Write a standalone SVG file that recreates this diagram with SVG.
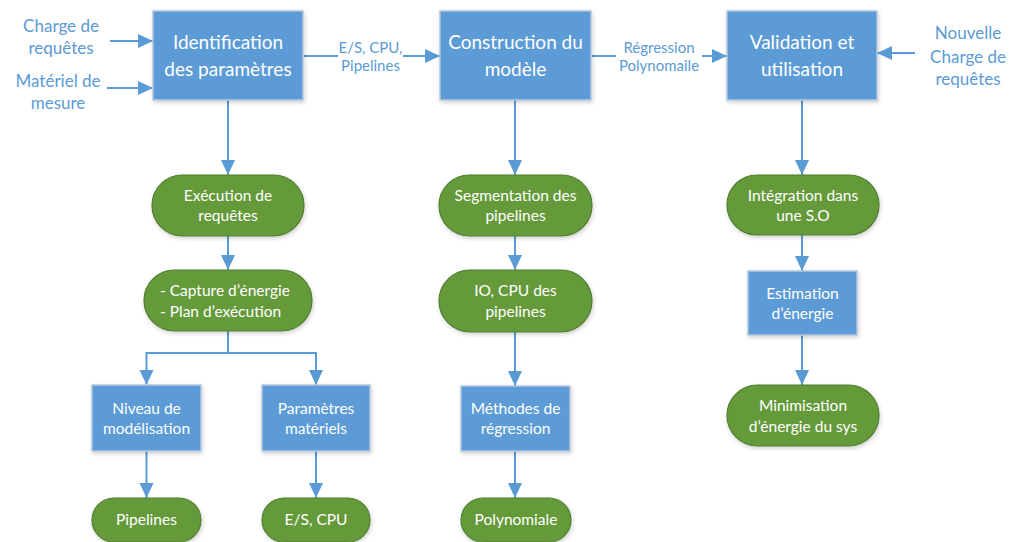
<svg xmlns="http://www.w3.org/2000/svg" width="1012" height="542" viewBox="0 0 1012 542">
<defs>
<marker id="arr" markerUnits="userSpaceOnUse" markerWidth="16" markerHeight="16" viewBox="0 0 16 16" refX="15" refY="8" orient="auto">
<path d="M0,1 L15,8 L0,15 Z" fill="#5B9BD5"/>
</marker>
<filter id="sh" x="-10%" y="-10%" width="130%" height="140%">
<feDropShadow dx="1" dy="2" stdDeviation="2" flood-color="#000" flood-opacity="0.18"/>
</filter>
</defs>
<style>
.box{fill:#5B9BD5;stroke:#B4C7DC;stroke-width:1.5;filter:url(#sh)}
.pill{fill:#659A3A;stroke:#507E32;stroke-width:1.2;filter:url(#sh)}
.t{font-family:Lato,"Open Sans","Liberation Sans",sans-serif;fill:#fff;text-anchor:middle}
.big{font-size:19px}
.sm{font-size:15.5px}
.lbl{font-family:Lato,"Open Sans","Liberation Sans",sans-serif;fill:#5B9BD5;text-anchor:middle}
.l17{font-size:17px}
.l15{font-size:15px}
.c{stroke:#5B9BD5;stroke-width:2;fill:none}
.ca{stroke:#5B9BD5;stroke-width:2;fill:none;marker-end:url(#arr)}
</style>

<g id="connectors">
<line class="ca" x1="110" y1="41" x2="153" y2="41"/>
<line class="ca" x1="107" y1="88" x2="153" y2="88"/>
<line class="c" x1="303" y1="56" x2="338" y2="56"/>
<line class="ca" x1="403" y1="56" x2="440" y2="56"/>
<line class="c" x1="591" y1="56" x2="616" y2="56"/>
<line class="ca" x1="702" y1="56" x2="727" y2="56"/>
<line class="ca" x1="915" y1="53" x2="877" y2="53"/>
<line class="ca" x1="228" y1="100" x2="228" y2="175"/>
<line class="ca" x1="228" y1="236" x2="228" y2="270"/>
<path class="c" d="M228,331 V353 H316 M228,353 H146.5"/>
<line class="ca" x1="146.5" y1="352" x2="146.5" y2="385"/>
<line class="ca" x1="316" y1="352" x2="316" y2="385"/>
<line class="ca" x1="146.5" y1="451" x2="146.5" y2="498"/>
<line class="ca" x1="316" y1="451" x2="316" y2="498"/>
<line class="ca" x1="515" y1="100" x2="515" y2="175"/>
<line class="ca" x1="515" y1="236" x2="515" y2="270"/>
<line class="ca" x1="515" y1="332" x2="515" y2="386"/>
<line class="ca" x1="515" y1="451" x2="515" y2="498"/>
<line class="ca" x1="802" y1="100" x2="802" y2="175"/>
<line class="ca" x1="802" y1="235" x2="802" y2="271"/>
<line class="ca" x1="802" y1="335" x2="802" y2="385"/>
<text class="lbl l15" x="370.5" y="53">E/S, CPU,</text>
<text class="lbl l15" x="370.5" y="71">Pipelines</text>
<text class="lbl l15" x="659" y="53">Régression</text>
<text class="lbl l15" x="659" y="71">Polynomaile</text>
</g>

<g id="in1"><text class="lbl l17" x="61" y="32">Charge de</text><text class="lbl l17" x="61" y="54">requêtes</text></g>
<g id="in2"><text class="lbl l17" x="58" y="87">Matériel de</text><text class="lbl l17" x="58" y="109">mesure</text></g>
<g id="in3"><text class="lbl l17" x="968" y="39">Nouvelle</text><text class="lbl l17" x="968" y="63">Charge de</text><text class="lbl l17" x="968" y="85">requêtes</text></g>

<g id="ident"><rect class="box" x="153" y="11" width="150" height="89"/><text class="t big" x="228" y="49">Identification</text><text class="t big" x="228" y="76">des paramètres</text></g>
<g id="constr"><rect class="box" x="440" y="11" width="151" height="89"/><text class="t big" x="515.5" y="49">Construction du</text><text class="t big" x="515.5" y="76">modèle</text></g>
<g id="valid"><rect class="box" x="727" y="11" width="150" height="89"/><text class="t big" x="802" y="49">Validation et</text><text class="t big" x="802" y="76">utilisation</text></g>

<g id="exec"><rect class="pill" x="152" y="175" width="152" height="61" rx="30.5"/><text class="t sm" x="228" y="201">Exécution de</text><text class="t sm" x="228" y="221">requêtes</text></g>
<g id="capture"><rect class="pill" x="144" y="270" width="168" height="61" rx="30.5"/><text class="t sm" x="160" y="296" style="text-anchor:start">- Capture d’énergie</text><text class="t sm" x="160" y="317" style="text-anchor:start">- Plan d’exécution</text></g>
<g id="niveau"><rect class="box" x="92" y="385" width="109" height="66"/><text class="t sm" x="146.5" y="414">Niveau de</text><text class="t sm" x="146.5" y="434">modélisation</text></g>
<g id="param"><rect class="box" x="262" y="385" width="108" height="66"/><text class="t sm" x="316" y="414">Paramètres</text><text class="t sm" x="316" y="434">matériels</text></g>
<g id="pipelines"><rect class="pill" x="92" y="498" width="109" height="44" rx="22"/><text class="t sm" x="146.5" y="525">Pipelines</text></g>
<g id="escpu"><rect class="pill" x="262" y="498" width="108" height="44" rx="22"/><text class="t sm" x="316" y="525">E/S, CPU</text></g>

<g id="segm"><rect class="pill" x="439" y="175" width="153" height="61" rx="30.5"/><text class="t sm" x="515.5" y="201">Segmentation des</text><text class="t sm" x="515.5" y="221">pipelines</text></g>
<g id="iocpu"><rect class="pill" x="439" y="270" width="153" height="62" rx="31"/><text class="t sm" x="515.5" y="296">IO, CPU des</text><text class="t sm" x="515.5" y="317">pipelines</text></g>
<g id="methodes"><rect class="box" x="461" y="386" width="109" height="65"/><text class="t sm" x="515.5" y="414">Méthodes de</text><text class="t sm" x="515.5" y="434">régression</text></g>
<g id="polynomiale"><rect class="pill" x="461" y="498" width="110" height="44" rx="22"/><text class="t sm" x="516" y="525">Polynomiale</text></g>

<g id="integ"><rect class="pill" x="727" y="175" width="152" height="60" rx="30"/><text class="t sm" x="803" y="201">Intégration dans</text><text class="t sm" x="803" y="221">une S.O</text></g>
<g id="estim"><rect class="box" x="748" y="271" width="109" height="64"/><text class="t sm" x="802.5" y="299">Estimation</text><text class="t sm" x="802.5" y="319">d’énergie</text></g>
<g id="minim"><rect class="pill" x="727" y="385" width="152" height="61" rx="30.5"/><text class="t sm" x="803" y="411">Minimisation</text><text class="t sm" x="803" y="432">d’énergie du sys</text></g>
</svg>
